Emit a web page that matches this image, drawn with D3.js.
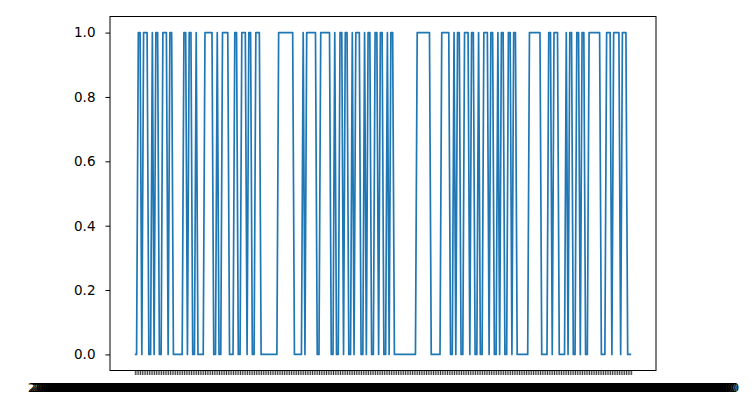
<!DOCTYPE html>
<html>
<head>
<meta charset="utf-8">
<script src="https://cdn.jsdelivr.net/npm/d3@7"></script>
<style>
  html, body { margin: 0; padding: 0; background: #fff; }
  svg { display: block; }
  text { font-family: "DejaVu Sans", sans-serif; fill: #000; }
</style>
</head>
<body>
<div id="chart"></div>
<script>
// ---- data ----
const values = [
  0,0,1,1,0,1,1,1,0,0,  1,0,1,1,0,0,1,1,1,0,
  1,1,0,0,0,0,0,0,1,1,  0,1,1,0,0,1,0,0,0,0,
  1,1,1,1,1,0,0,1,0,0,  1,1,1,1,0,0,0,1,1,0,
  0,1,1,1,0,1,1,0,0,1,  1,1,0,0,0,0,0,0,0,0,
  0,0,1,1,1,1,1,1,1,1,  1,0,0,0,0,0,1,0,1,1,
  1,1,1,1,0,0,1,1,1,1,  1,1,0,0,1,0,0,1,1,0,
  1,1,0,0,1,0,1,1,1,0,  0,1,0,1,1,0,0,1,1,0,
  1,1,0,0,1,0,1,1,0,0,  0,0,0,0,0,0,0,0,0,0,
  0,1,1,1,1,1,1,1,1,0,  0,0,0,0,0,1,1,1,1,1,
  0,0,1,0,1,1,0,0,1,1,  1,0,1,1,0,0,1,0,0,1,
  1,1,0,1,1,0,0,1,0,1,  1,0,0,1,1,0,1,1,0,0,
  0,0,0,0,0,1,1,1,1,1,  1,1,0,0,0,0,1,1,0,1,
  1,1,0,0,0,0,1,0,1,1,  0,0,1,1,0,1,1,0,0,1,
  1,1,1,1,1,1,0,0,0,1,  1,1,0,1,1,1,1,0,1,1,
  1,0,0,0
];
const startDate = new Date(2021, 0, 4, 9, 30, 0);
const fmt = d3.timeFormat("%Y-%m-%d %H:%M:%S.%L+00:00");
const categories = d3.timeDay.range(startDate, d3.timeDay.offset(startDate, values.length)).map(fmt);
const yTicks = [0.0, 0.2, 0.4, 0.6, 0.8, 1.0];

// ---- layout ----
const W = 755, H = 416;
const mLeft = 110, mRight = 656, mTop = 16.5, mBottom = 370.5;

const svg = d3.select("#chart").append("svg").attr("width", W).attr("height", H);

const n = values.length;
const x = d3.scaleLinear().domain([-0.05 * (n - 1), 1.05 * (n - 1)]).range([mLeft, mRight]);
const y = d3.scaleLinear().domain([-0.05, 1.05]).range([mBottom, mTop]);

// line
const line = d3.line().x((d, i) => x(i)).y(d => y(d));
svg.append("path")
  .datum(values)
  .attr("fill", "none")
  .attr("stroke", "#1f77b4")
  .attr("stroke-width", 1.7)
  .attr("stroke-linejoin", "round")
  .attr("d", line);

// y axis
const yAxis = d3.axisLeft(y).tickValues(yTicks).tickFormat(d3.format(".1f")).tickSize(4.5).tickPadding(10);
const gy = svg.append("g").attr("transform", `translate(${mLeft},0)`).call(yAxis);
gy.select(".domain").remove();
gy.selectAll("line").attr("stroke", "#000").attr("stroke-width", 1);
gy.selectAll("text").attr("font-size", "13.5px").attr("fill", "#222");

// x axis
const xAxis = d3.axisBottom(x).tickValues(d3.range(n)).tickFormat(i => categories[i]).tickSize(4.5).tickPadding(8);
const gx = svg.append("g").attr("transform", `translate(0,${mBottom})`).call(xAxis);
gx.select(".domain").remove();
gx.selectAll("line").attr("stroke", "#000").attr("stroke-width", 0.8);
gx.selectAll("text").attr("font-size", "13px").attr("fill", "#000");

// frame
svg.append("rect")
  .attr("x", mLeft).attr("y", mTop)
  .attr("width", mRight - mLeft).attr("height", mBottom - mTop)
  .attr("fill", "none").attr("stroke", "#000").attr("stroke-width", 1);
</script>
</body>
</html>
